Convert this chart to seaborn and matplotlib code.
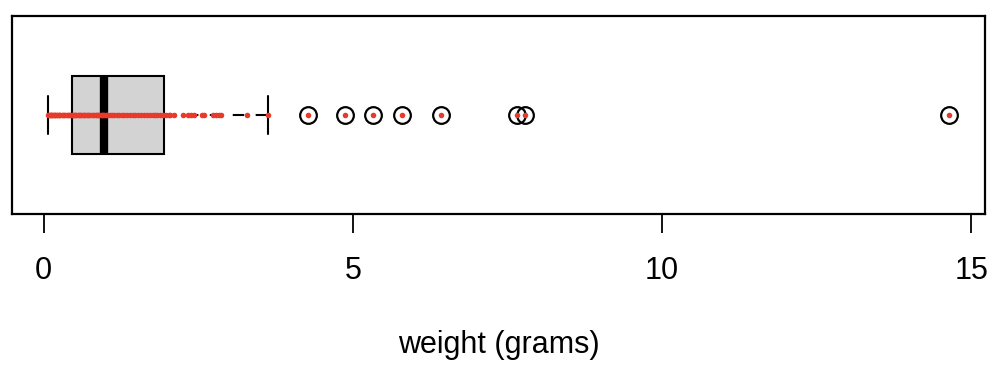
import numpy as np
import pandas as pd
import matplotlib
matplotlib.use("Agg")
import matplotlib.pyplot as plt
import seaborn as sns

# =========================
# Data
# =========================
low_weights = [0.07, 0.08, 0.10, 0.11, 0.12, 0.13, 0.15, 0.16, 0.18, 0.19, 0.21, 0.22,
               0.24, 0.25, 0.27, 0.29, 0.31, 0.33, 0.35, 0.37, 0.39, 0.41, 0.43, 0.45]
mid_weights = [0.47, 0.49, 0.51, 0.53, 0.55, 0.57, 0.59, 0.61, 0.63, 0.65, 0.67, 0.70,
               0.72, 0.74, 0.77, 0.79, 0.81, 0.84, 0.86, 0.88, 0.90, 0.92, 0.94, 0.96]
upper_box_weights = [0.98, 1.00, 1.03, 1.07, 1.10, 1.14, 1.18, 1.22, 1.26, 1.30, 1.35, 1.40,
                     1.44, 1.48, 1.53, 1.58, 1.62, 1.67, 1.72, 1.76, 1.80, 1.84, 1.88, 1.93]
whisker_weights = [1.97, 2.02, 2.05, 2.10, 2.26, 2.34, 2.38, 2.43, 2.56, 2.59, 2.73, 2.78,
                   2.83, 2.86, 3.29, 3.62]
outlier_weights = [4.27, 4.88, 5.33, 5.79, 6.42, 7.65, 7.78, 14.64]

weights = low_weights + mid_weights + upper_box_weights + whisker_weights + outlier_weights
df = pd.DataFrame({"weight": weights, "group": "all"})

x_ticks = [0, 5, 10, 15]

# =========================
# Plot
# =========================
sns.set_style("white")
plt.rcParams["font.family"] = ["Liberation Sans", "DejaVu Sans"]

fig = plt.figure(figsize=(10, 3.73), dpi=100)
ax = fig.add_axes([0.012, 0.426, 0.973, 0.531])

sns.boxplot(
    data=df, x="weight", y="group", ax=ax,
    width=0.39, color="#d3d3d3", linecolor="black", linewidth=1.5,
    whis=1.5,
    boxprops=dict(facecolor="#d3d3d3", edgecolor="black", linewidth=1.5),
    medianprops=dict(color="black", linewidth=6, solid_capstyle="butt"),
    whiskerprops=dict(color="black", linewidth=1.5, linestyle=(0, (5.5, 5.5))),
    capprops=dict(color="black", linewidth=1.5),
    flierprops=dict(marker="o", markersize=12, markerfacecolor="none",
                    markeredgecolor="black", markeredgewidth=1.6),
)
sns.stripplot(
    data=df, x="weight", y="group", ax=ax,
    jitter=False, color="#e8392b", size=4, linewidth=0, zorder=5,
)

span = max(weights) - min(weights)
ax.set_xlim(min(weights) - 0.04 * span, max(weights) + 0.04 * span)
ax.set_ylim(0.5, -0.5)
ax.set_yticks([])
ax.set_ylabel("")
ax.set_xticks(x_ticks)
ax.set_xticklabels([str(t) for t in x_ticks])
ax.tick_params(axis="x", bottom=True, direction="out", length=14, width=1.3,
               pad=16, labelsize=22, color="black", labelcolor="black")
for side in ax.spines.values():
    side.set_visible(True)
    side.set_color("black")
    side.set_linewidth(1.6)
ax.set_xlabel("weight (grams)", fontsize=22, labelpad=32, color="black")

fig.savefig("out.png", dpi=100, facecolor="white")
